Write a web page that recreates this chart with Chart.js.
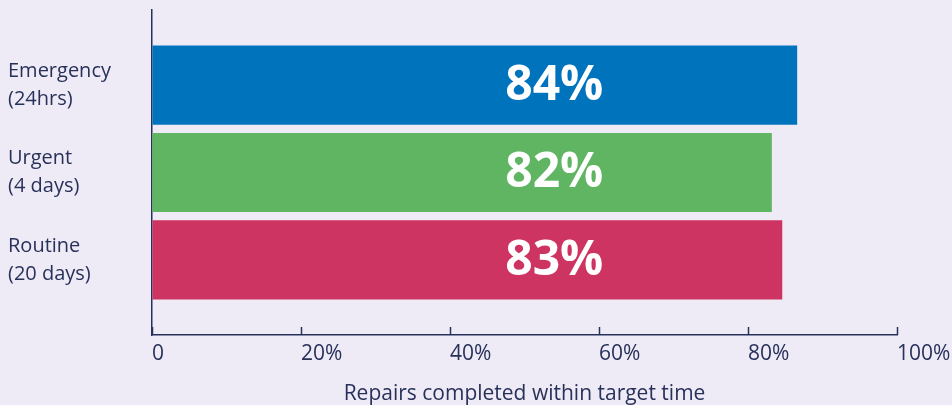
<!DOCTYPE html>
<html>
<head>
<meta charset="utf-8">
<script src="https://cdn.jsdelivr.net/npm/chart.js@4/dist/chart.umd.min.js"></script>
<style>
  html, body { margin: 0; padding: 0; background: #efebf6; }
  #wrap { width: 952px; height: 405px; position: relative; }
</style>
</head>
<body>
<div id="wrap"><canvas id="repairsChart"></canvas></div>
<script>
const categories = [
  ["Emergency", "(24hrs)"],
  ["Urgent", "(4 days)"],
  ["Routine", "(20 days)"],
];
// bar lengths as drawn in the picture (% of repairs)
const barValues = [86.6, 83.2, 84.6];
const valueLabels = ["84%", "82%", "83%"];
const barColors = ["#0073bd", "#5fb562", "#cd3461"];
const xTicks = [0, 20, 40, 60, 80, 100];
const axisTitle = "Repairs completed within target time";

const navy = "#27315a";
const labelAt = 54.0; // where the big % labels sit on the x scale

const percentLabels = {
  id: "percentLabels",
  afterDatasetsDraw(chart) {
    const { ctx, scales: { x } } = chart;
    const meta = chart.getDatasetMeta(0);
    ctx.save();
    ctx.fillStyle = "#ffffff";
    ctx.font = "bold 48px 'Open Sans'";
    ctx.textAlign = "center";
    ctx.textBaseline = "middle";
    meta.data.forEach((bar, i) => {
      ctx.fillText(valueLabels[i], x.getPixelForValue(labelAt), bar.y + 1);
    });
    ctx.restore();
  },
};

// small tick marks pointing up into the plot
const innerTicks = {
  id: "innerTicks",
  afterDraw(chart) {
    const { ctx, scales: { x }, chartArea: { bottom } } = chart;
    ctx.save();
    ctx.strokeStyle = navy;
    ctx.lineWidth = 1.5;
    x.ticks.forEach((t) => {
      const px = Math.round(x.getPixelForValue(t.value)) + 0.5;
      ctx.beginPath();
      ctx.moveTo(px, bottom);
      ctx.lineTo(px, bottom - 8);
      ctx.stroke();
    });
    ctx.restore();
  },
};

new Chart(document.getElementById("repairsChart"), {
  type: "bar",
  data: {
    datasets: [
      {
        data: barValues.map((v, i) => ({ x: v, y: i })),
        backgroundColor: barColors,
        borderWidth: 0,
        categoryPercentage: 1,
        barPercentage: 0.905,
      },
    ],
  },
  options: {
    indexAxis: "y",
    responsive: true,
    maintainAspectRatio: false,
    animation: false,
    layout: { padding: { top: 10, left: 8, right: 55, bottom: 0 } },
    plugins: { legend: { display: false }, tooltip: { enabled: false } },
    scales: {
      x: {
        type: "linear",
        min: 0,
        max: 100,
        afterBuildTicks: (axis) => {
          axis.ticks = xTicks.map((v) => ({ value: v }));
        },
        afterFit: (axis) => {
          axis.height = 70;
          axis.paddingLeft = 0;
          axis.paddingRight = 0;
        },
        grid: { drawOnChartArea: false, drawTicks: false },
        border: { color: navy, width: 1.5 },
        ticks: {
          align: "start",
          padding: 6,
          color: navy,
          font: { family: "'Open Sans'", size: 21 },
          callback: (v) => (v === 0 ? "0" : v + "%"),
        },
        title: {
          display: true,
          text: axisTitle,
          color: navy,
          font: { family: "'Open Sans'", size: 21 },
          padding: { top: 0, bottom: -2 },
        },
      },
      y: {
        type: "linear",
        reverse: true,
        offset: false,
        min: -0.86,
        max: 2.86,
        afterBuildTicks: (axis) => {
          axis.ticks = categories.map((c, i) => ({ value: i }));
        },
        afterFit: (axis) => {
          axis.width = 144;
          axis.paddingTop = 0;
          axis.paddingBottom = 0;
        },
        grid: { offset: false, drawOnChartArea: false, drawTicks: false },
        border: { color: navy, width: 1.5 },
        ticks: {
          crossAlign: "far",
          color: navy,
          font: { family: "'Open Sans'", size: 20, lineHeight: 1.4 },
          callback: (v) => categories[v],
        },
      },
    },
  },
  plugins: [percentLabels, innerTicks],
});
</script>
</body>
</html>
